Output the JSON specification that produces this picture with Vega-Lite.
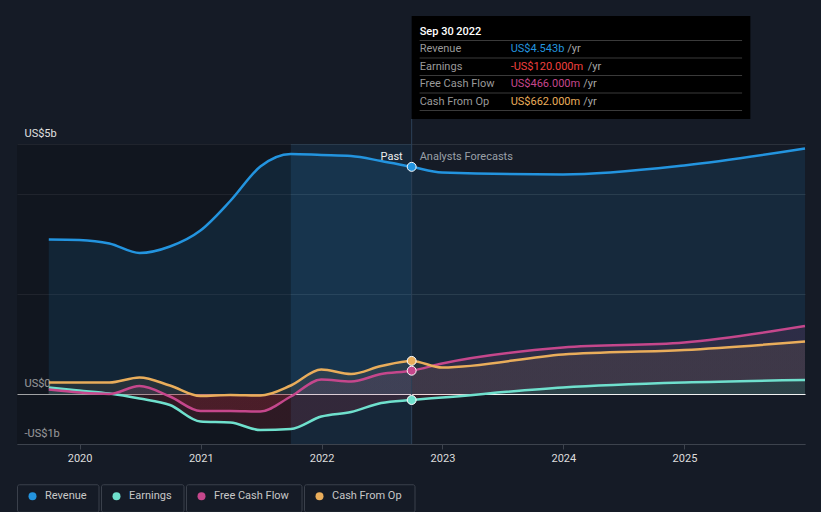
{
  "$schema": "https://vega.github.io/schema/vega-lite/v6.json",
  "width": 788,
  "height": 444,
  "padding": {"left": 17, "top": 0, "right": 16, "bottom": 0},
  "autosize": {"type": "pad"},
  "background": "#151b26",
  "config": {
    "view": {"stroke": null},
    "font": "Roboto",
    "legend": {
      "orient": "none",
      "legendX": 0,
      "legendY": 484,
      "direction": "horizontal",
      "symbolType": "circle",
      "symbolSize": 64,
      "labelColor": "#c8c8c8",
      "labelFontSize": 11,
      "labelFont": "Roboto",
      "columnPadding": 1,
      "labelOffset": 6,
      "padding": 0,
      "title": null
    }
  },
  "datasets": {
    "fin": [
      {"date": "2019-09-30", "series": "Revenue", "value": 3.09},
      {"date": "2019-12-31", "series": "Revenue", "value": 3.08},
      {"date": "2020-03-31", "series": "Revenue", "value": 3.01},
      {"date": "2020-06-30", "series": "Revenue", "value": 2.82},
      {"date": "2020-09-30", "series": "Revenue", "value": 2.95},
      {"date": "2020-12-31", "series": "Revenue", "value": 3.27},
      {"date": "2021-03-31", "series": "Revenue", "value": 3.86},
      {"date": "2021-06-30", "series": "Revenue", "value": 4.55},
      {"date": "2021-09-30", "series": "Revenue", "value": 4.80},
      {"date": "2021-12-31", "series": "Revenue", "value": 4.78},
      {"date": "2022-03-31", "series": "Revenue", "value": 4.76},
      {"date": "2022-06-30", "series": "Revenue", "value": 4.66},
      {"date": "2022-09-30", "series": "Revenue", "value": 4.543},
      {"date": "2022-12-31", "series": "Revenue", "value": 4.43},
      {"date": "2023-12-31", "series": "Revenue", "value": 4.39},
      {"date": "2024-12-31", "series": "Revenue", "value": 4.57},
      {"date": "2025-12-31", "series": "Revenue", "value": 4.91},
      {"date": "2019-09-30", "series": "Earnings", "value": 0.13},
      {"date": "2019-12-31", "series": "Earnings", "value": 0.07},
      {"date": "2020-03-31", "series": "Earnings", "value": 0.01},
      {"date": "2020-06-30", "series": "Earnings", "value": -0.09},
      {"date": "2020-09-30", "series": "Earnings", "value": -0.22},
      {"date": "2020-12-31", "series": "Earnings", "value": -0.55},
      {"date": "2021-03-31", "series": "Earnings", "value": -0.57},
      {"date": "2021-06-30", "series": "Earnings", "value": -0.72},
      {"date": "2021-09-30", "series": "Earnings", "value": -0.70},
      {"date": "2021-12-31", "series": "Earnings", "value": -0.45},
      {"date": "2022-03-31", "series": "Earnings", "value": -0.36},
      {"date": "2022-06-30", "series": "Earnings", "value": -0.18},
      {"date": "2022-09-30", "series": "Earnings", "value": -0.12},
      {"date": "2022-12-31", "series": "Earnings", "value": -0.07},
      {"date": "2023-12-31", "series": "Earnings", "value": 0.13},
      {"date": "2024-12-31", "series": "Earnings", "value": 0.23},
      {"date": "2025-12-31", "series": "Earnings", "value": 0.28},
      {"date": "2019-09-30", "series": "Free Cash Flow", "value": 0.09},
      {"date": "2019-12-31", "series": "Free Cash Flow", "value": 0.03},
      {"date": "2020-03-31", "series": "Free Cash Flow", "value": 0.0},
      {"date": "2020-06-30", "series": "Free Cash Flow", "value": 0.16},
      {"date": "2020-09-30", "series": "Free Cash Flow", "value": -0.05},
      {"date": "2020-12-31", "series": "Free Cash Flow", "value": -0.34},
      {"date": "2021-03-31", "series": "Free Cash Flow", "value": -0.34},
      {"date": "2021-06-30", "series": "Free Cash Flow", "value": -0.35},
      {"date": "2021-09-30", "series": "Free Cash Flow", "value": -0.05},
      {"date": "2021-12-31", "series": "Free Cash Flow", "value": 0.29},
      {"date": "2022-03-31", "series": "Free Cash Flow", "value": 0.25},
      {"date": "2022-06-30", "series": "Free Cash Flow", "value": 0.40},
      {"date": "2022-09-30", "series": "Free Cash Flow", "value": 0.466},
      {"date": "2022-12-31", "series": "Free Cash Flow", "value": 0.61},
      {"date": "2023-12-31", "series": "Free Cash Flow", "value": 0.93},
      {"date": "2024-12-31", "series": "Free Cash Flow", "value": 1.03},
      {"date": "2025-12-31", "series": "Free Cash Flow", "value": 1.36},
      {"date": "2019-09-30", "series": "Cash From Op", "value": 0.23},
      {"date": "2019-12-31", "series": "Cash From Op", "value": 0.23},
      {"date": "2020-03-31", "series": "Cash From Op", "value": 0.23},
      {"date": "2020-06-30", "series": "Cash From Op", "value": 0.33},
      {"date": "2020-09-30", "series": "Cash From Op", "value": 0.17},
      {"date": "2020-12-31", "series": "Cash From Op", "value": -0.04},
      {"date": "2021-03-31", "series": "Cash From Op", "value": -0.02},
      {"date": "2021-06-30", "series": "Cash From Op", "value": -0.03},
      {"date": "2021-09-30", "series": "Cash From Op", "value": 0.17},
      {"date": "2021-12-31", "series": "Cash From Op", "value": 0.49},
      {"date": "2022-03-31", "series": "Cash From Op", "value": 0.40},
      {"date": "2022-06-30", "series": "Cash From Op", "value": 0.56},
      {"date": "2022-09-30", "series": "Cash From Op", "value": 0.662},
      {"date": "2022-12-31", "series": "Cash From Op", "value": 0.53},
      {"date": "2023-12-31", "series": "Cash From Op", "value": 0.79},
      {"date": "2024-12-31", "series": "Cash From Op", "value": 0.88},
      {"date": "2025-12-31", "series": "Cash From Op", "value": 1.05}
    ],
    "tip": [
      {"row": "Sep 30 2022", "label": "Sep 30 2022"},
      {"row": "Revenue", "label": "Revenue", "series": "Revenue", "amount": 4.543, "text": "US$4.543b"},
      {"row": "Earnings", "label": "Earnings", "series": "Earnings", "amount": -0.12, "text": "-US$120.000m"},
      {"row": "Free Cash Flow", "label": "Free Cash Flow", "series": "Free Cash Flow", "amount": 0.466, "text": "US$466.000m"},
      {"row": "Cash From Op", "label": "Cash From Op", "series": "Cash From Op", "amount": 0.662, "text": "US$662.000m"}
    ]
  },
  "layer": [
    {
      "layer": [
        {
          "data": {"values": [{}]},
          "mark": {"type": "rect", "color": "#0b0f15", "opacity": 0.35},
          "encoding": {
            "x": {"datum": {"year": 2019, "month": 6, "date": 26}, "type": "temporal", "title": null,
              "scale": {"domain": [{"year": 2019, "month": 6, "date": 26}, {"year": 2025, "month": 12, "date": 31}]},
              "axis": {"format": "%Y", "tickCount": {"interval": "year", "step": 1}, "labelColor": "#dddddd", "labelFontSize": 11, "tickColor": "#3d434d", "tickSize": 5, "domainColor": "#3d434d", "labelPadding": 3, "grid": false, "labelFlush": false, "title": null}},
            "x2": {"datum": {"year": 2021, "month": 9, "date": 30}},
            "y": {"datum": 5, "type": "quantitative", "title": null,
              "scale": {"domain": [-1, 7.88], "nice": false, "zero": false},
              "axis": {
                "values": [-1, 0, 2, 4, 5],
                "domain": false, "ticks": false, "tickSize": 0,
                "grid": true,
                "gridColor": {"condition": {"test": "datum.value === 0", "value": "#f2f2f2"}, "value": "#2b313b"},
                "gridWidth": 1,
                "labelAlign": "left", "labelBaseline": "alphabetic", "labelPadding": -7, "labelOffset": -8,
                "labelColor": "#e0e0e0", "labelFontSize": 11,
                "labelExpr": "datum.value == 5 ? 'US$5b' : datum.value == 0 ? 'US$0' : datum.value == -1 ? '-US$1b' : ''",
                "title": null
              }},
            "y2": {"datum": -1}
          }
        },
        {
          "data": {"values": [{}]},
          "mark": {"type": "rect", "color": "#2394df", "opacity": 0.1},
          "encoding": {
            "x": {"datum": {"year": 2021, "month": 9, "date": 30}, "type": "temporal", "title": null},
            "x2": {"datum": {"year": 2022, "month": 9, "date": 30}},
            "y": {"datum": 5, "type": "quantitative", "title": null},
            "y2": {"datum": -1}
          }
        },
        {
          "data": {"name": "fin"},
          "transform": [{"filter": "datum.series == 'Revenue'"}],
          "mark": {"type": "area", "interpolate": "monotone", "color": "#2394df", "opacity": 0.12},
          "encoding": {
            "x": {"field": "date", "type": "temporal", "title": null},
            "y": {"field": "value", "type": "quantitative", "title": null},
            "y2": {"datum": 0}
          }
        },
        {
          "data": {"name": "fin"},
          "transform": [{"filter": "datum.series == 'Free Cash Flow'"}],
          "mark": {"type": "area", "interpolate": "monotone",
            "color": {"gradient": "linear", "x1": 0, "y1": 0, "x2": 0, "y2": 1,
              "stops": [
                {"offset": 0, "color": "rgba(200,70,140,0.13)"},
                {"offset": 0.795, "color": "rgba(200,70,140,0.13)"},
                {"offset": 0.795, "color": "rgba(214,48,64,0.17)"},
                {"offset": 1, "color": "rgba(214,48,64,0.17)"}
              ]}},
          "encoding": {
            "x": {"field": "date", "type": "temporal", "title": null},
            "y": {"field": "value", "type": "quantitative", "title": null},
            "y2": {"datum": 0}
          }
        },
        {
          "data": {"name": "fin"},
          "transform": [{"filter": "datum.series == 'Cash From Op'"}],
          "mark": {"type": "area", "interpolate": "monotone",
            "color": {"gradient": "linear", "x1": 0, "y1": 0, "x2": 0, "y2": 1,
              "stops": [
                {"offset": 0, "color": "rgba(232,170,90,0.09)"},
                {"offset": 0.963, "color": "rgba(232,170,90,0.09)"},
                {"offset": 0.963, "color": "rgba(214,48,64,0.15)"},
                {"offset": 1, "color": "rgba(214,48,64,0.15)"}
              ]}},
          "encoding": {
            "x": {"field": "date", "type": "temporal", "title": null},
            "y": {"field": "value", "type": "quantitative", "title": null},
            "y2": {"datum": 0}
          }
        },
        {
          "data": {"name": "fin"},
          "transform": [{"filter": "datum.series == 'Earnings'"}],
          "mark": {"type": "area", "interpolate": "monotone",
            "color": {"gradient": "linear", "x1": 0, "y1": 0, "x2": 0, "y2": 1,
              "stops": [
                {"offset": 0, "color": "rgba(40,68,72,0.8)"},
                {"offset": 0.28, "color": "rgba(40,68,72,0.8)"},
                {"offset": 0.28, "color": "rgba(214,48,64,0.15)"},
                {"offset": 1, "color": "rgba(214,48,64,0.15)"}
              ]}},
          "encoding": {
            "x": {"field": "date", "type": "temporal", "title": null},
            "y": {"field": "value", "type": "quantitative", "title": null},
            "y2": {"datum": 0}
          }
        },
        {
          "data": {"values": [{}]},
          "mark": {"type": "rule", "color": "#2c4157", "strokeWidth": 1},
          "encoding": {
            "x": {"datum": {"year": 2022, "month": 9, "date": 30}, "type": "temporal", "title": null},
            "y": {"datum": 5.5, "type": "quantitative", "title": null},
            "y2": {"datum": -1}
          }
        },
        {
          "data": {"name": "fin"},
          "mark": {"type": "line", "interpolate": "monotone", "strokeWidth": 2.5},
          "encoding": {
            "x": {"field": "date", "type": "temporal", "title": null},
            "y": {"field": "value", "type": "quantitative", "title": null},
            "color": {
              "field": "series", "type": "nominal",
              "scale": {"domain": ["Revenue", "Earnings", "Free Cash Flow", "Cash From Op"], "range": ["#2394df", "#6fe0cd", "#c5478c", "#e9ad5b"]},
              "legend": {
                "title": null,
                "encode": {
                  "entries": {"update": {
                    "width": {"signal": "(datum.value == 'Revenue' || datum.label == 'Revenue' || datum.index === 0) ? 81 : (datum.value == 'Earnings' || datum.label == 'Earnings' || datum.index === 1) ? 82 : (datum.value == 'Free Cash Flow' || datum.label == 'Free Cash Flow' || datum.index === 2) ? 115 : 110"},
                    "height": {"value": 27},
                    "stroke": {"value": "#3a404b"},
                    "strokeWidth": {"value": 1},
                    "cornerRadius": {"value": 2},
                    "fill": {"value": "transparent"},
                    "noBound": {"value": false}
                  }},
                  "symbols": {"update": {"fill": {"scale": "color", "field": "value"}, "strokeWidth": {"value": 0}, "x": {"value": 15.5}, "y": {"value": 12}}},
                  "labels": {"update": {"x": {"value": 28}, "y": {"value": 12}, "baseline": {"value": "middle"}}}
                }
              }
            }
          }
        },
        {
          "data": {"name": "tip"},
          "transform": [{"filter": "isValid(datum.series)"}],
          "mark": {"type": "point", "filled": true, "size": 80, "stroke": "#ffffff", "strokeWidth": 1, "opacity": 1},
          "encoding": {
            "x": {"datum": {"year": 2022, "month": 9, "date": 30}, "type": "temporal", "title": null},
            "y": {"field": "amount", "type": "quantitative", "title": null},
            "fill": {"field": "series", "type": "nominal", "scale": {"domain": ["Revenue", "Earnings", "Free Cash Flow", "Cash From Op"], "range": ["#2394df", "#6fe0cd", "#c5478c", "#e9ad5b"]}, "legend": null}
          }
        },
        {
          "data": {"values": [{"t": "Past"}]},
          "mark": {"type": "text", "align": "right", "baseline": "middle", "dx": -9, "color": "#eeeeee", "fontSize": 11},
          "encoding": {
            "x": {"datum": {"year": 2022, "month": 9, "date": 30}, "type": "temporal", "title": null},
            "y": {"datum": 4.75, "type": "quantitative", "title": null},
            "text": {"field": "t"}
          }
        },
        {
          "data": {"values": [{"t": "Analysts Forecasts"}]},
          "mark": {"type": "text", "align": "left", "baseline": "middle", "dx": 8, "color": "#9aa0a8", "fontSize": 11},
          "encoding": {
            "x": {"datum": {"year": 2022, "month": 9, "date": 30}, "type": "temporal", "title": null},
            "y": {"datum": 4.75, "type": "quantitative", "title": null},
            "text": {"field": "t"}
          }
        },
        {
          "data": {"values": [{}]},
          "mark": {"type": "rect", "color": "#000000", "opacity": 1},
          "encoding": {
            "x": {"datum": {"year": 2022, "month": 9, "date": 30}, "type": "temporal", "title": null},
            "x2": {"datum": {"year": 2025, "month": 7, "date": 19}},
            "y": {"datum": 7.56, "type": "quantitative", "title": null},
            "y2": {"datum": 5.5}
          }
        }
      ]
    },
    {
      "data": {"name": "tip"},
      "layer": [
        {
          "mark": {"type": "rule", "color": "#3a3a3a", "strokeWidth": 1},
          "encoding": {
            "x": {"datum": {"year": 2022, "month": 10, "date": 24}, "type": "temporal", "title": null},
            "x2": {"datum": {"year": 2025, "month": 6, "date": 24}},
            "y": {"field": "row", "type": "nominal", "bandPosition": 1, "axis": null,
              "scale": {"type": "band", "domain": ["Sep 30 2022", "Revenue", "Earnings", "Free Cash Flow", "Cash From Op"], "range": [23, 110.5], "paddingInner": 0, "paddingOuter": 0}}
          }
        },
        {
          "transform": [{"filter": "!isValid(datum.series)"}],
          "mark": {"type": "text", "align": "left", "baseline": "middle", "dx": 8, "color": "#ffffff", "fontSize": 11, "fontWeight": 500},
          "encoding": {
            "x": {"datum": {"year": 2022, "month": 9, "date": 30}, "type": "temporal", "title": null},
            "y": {"field": "row", "type": "nominal", "bandPosition": 0.5, "axis": null},
            "text": {"field": "label"}
          }
        },
        {
          "transform": [{"filter": "isValid(datum.series)"}],
          "mark": {"type": "text", "align": "left", "baseline": "middle", "dx": 8, "color": "#9a9a9a", "fontSize": 11},
          "encoding": {
            "x": {"datum": {"year": 2022, "month": 9, "date": 30}, "type": "temporal", "title": null},
            "y": {"field": "row", "type": "nominal", "bandPosition": 0.5, "axis": null},
            "text": {"field": "label"}
          }
        },
        {
          "transform": [{"filter": "isValid(datum.series)"}],
          "mark": {"type": "text", "align": "left", "baseline": "middle", "dx": 99, "fontSize": 11},
          "encoding": {
            "x": {"datum": {"year": 2022, "month": 9, "date": 30}, "type": "temporal", "title": null},
            "y": {"field": "row", "type": "nominal", "bandPosition": 0.5, "axis": null},
            "text": {"field": "text"},
            "color": {"condition": {"test": "datum.amount < 0", "value": "#f0413f"}, "field": "series", "type": "nominal", "legend": null}
          }
        },
        {
          "transform": [{"filter": "isValid(datum.series)"}],
          "mark": {"type": "text", "align": "left", "baseline": "middle", "fontSize": 11, "color": "#a6a6a6",
            "dx": {"expr": "datum.series == 'Revenue' ? 155.6 : datum.series == 'Earnings' ? 176 : 171.6"}},
          "encoding": {
            "x": {"datum": {"year": 2022, "month": 9, "date": 30}, "type": "temporal", "title": null},
            "y": {"field": "row", "type": "nominal", "bandPosition": 0.5, "axis": null},
            "text": {"value": "/yr"}
          }
        }
      ]
    }
  ],
  "resolve": {"scale": {"y": "independent"}}
}
